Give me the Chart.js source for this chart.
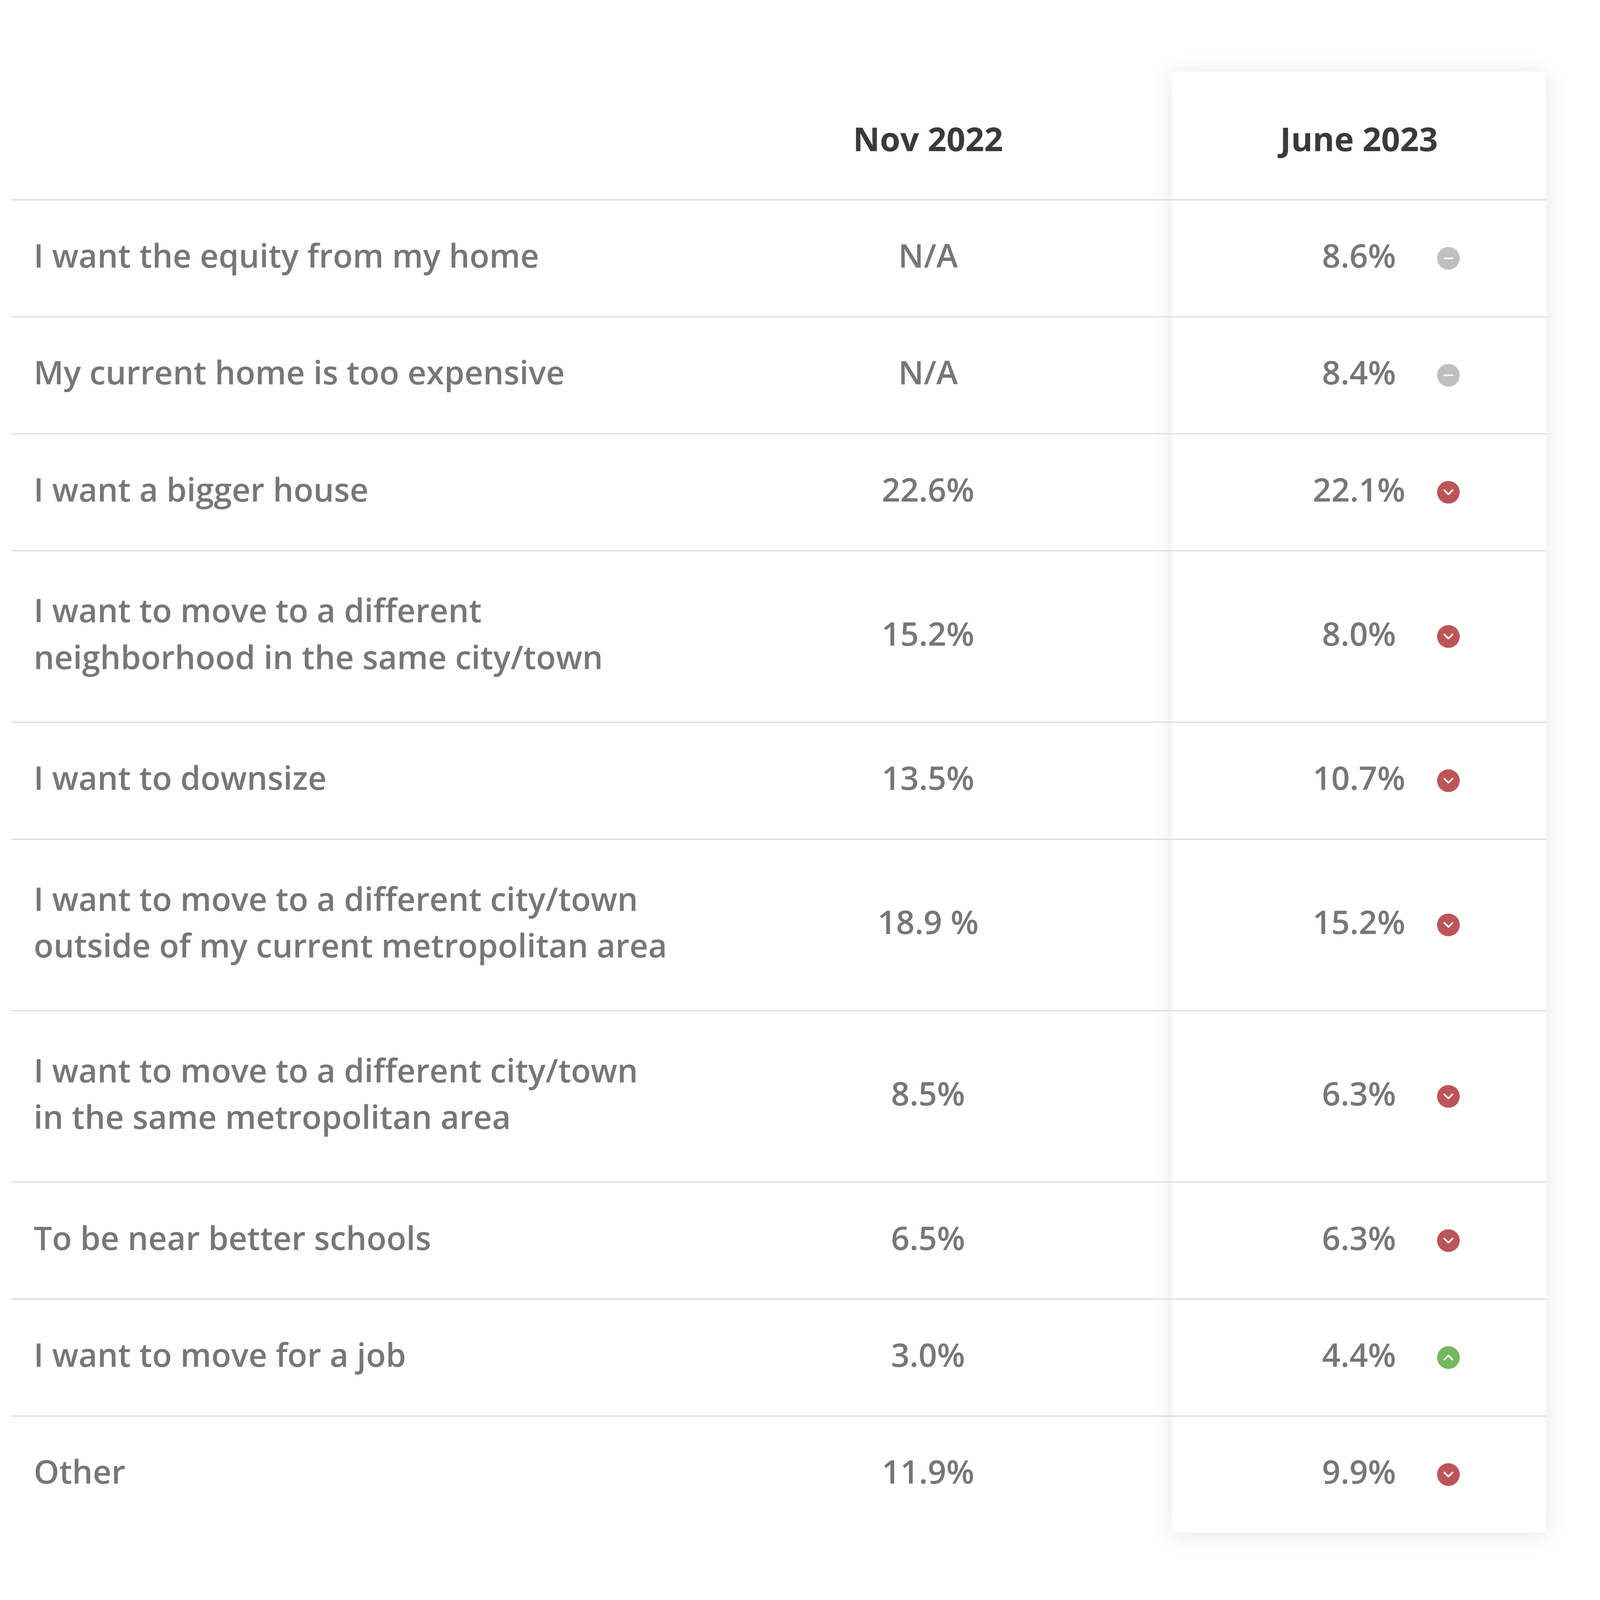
<!DOCTYPE html>
<html><head><meta charset="utf-8">
<script src="https://cdn.jsdelivr.net/npm/chart.js@4"></script>
<style>html,body{margin:0;padding:0;background:#fff;overflow:hidden}#wrap{width:100vw;height:100vh;position:relative}</style>
</head><body><div id="wrap"><canvas id="c"></canvas></div>
<script>
const headers = ["Nov 2022", "June 2023"];
const reasons = [
  ["I want the equity from my home"],
  ["My current home is too expensive"],
  ["I want a bigger house"],
  ["I want to move to a different", "neighborhood in the same city/town"],
  ["I want to downsize"],
  ["I want to move to a different city/town", "outside of my current metropolitan area"],
  ["I want to move to a different city/town", "in the same metropolitan area"],
  ["To be near better schools"],
  ["I want to move for a job"],
  ["Other"]
];
const nov2022 = ["N/A","N/A","22.6%","15.2%","13.5%","18.9 %","8.5%","6.5%","3.0%","11.9%"];
const june2023 = ["8.6%","8.4%","22.1%","8.0%","10.7%","15.2%","6.3%","6.3%","4.4%","9.9%"];
const trend = ["none","none","down","down","down","down","down","down","up","down"];

const W=1552,H=1389;
const headTop=53, headBottom=166, singleH=103, doubleH=151;
const rowTop=[], rowBot=[], rowMid=[];
let yy=headBottom;
reasons.forEach(r=>{const h=r.length>1?doubleH:singleH;rowTop.push(yy);rowMid.push(yy+h/2);yy+=h;rowBot.push(yy);});
const colNovX=902, colJuneX=1326, iconX=1414, labelX=22, panelL=1142, panelR=1510;
const trendColor={none:"#bfbfbf",down:"#bc5557",up:"#74b85f"};
const FONT="'Open Sans', Lato, sans-serif";

const tablePlugin={
  id:"table",
  beforeDatasetsDraw(chart){
    const {ctx,scales:{x,y}}=chart;
    const S=chart.width/W;
    const px=v=>x.getPixelForValue(v), py=v=>y.getPixelForValue(v);
    ctx.save();
    ctx.shadowColor="rgba(0,0,0,0.10)";ctx.shadowBlur=20*S;ctx.shadowOffsetY=2*S;
    ctx.fillStyle="#fff";
    ctx.fillRect(px(panelL),py(headTop),px(panelR)-px(panelL),py(yy)-py(headTop));
    ctx.restore();
    ctx.save();
    ctx.strokeStyle="#dcdcdc";ctx.lineWidth=1.2*S;
    [headBottom,...rowBot.slice(0,-1)].forEach(v=>{ctx.beginPath();ctx.moveTo(px(0),py(v));ctx.lineTo(px(panelR),py(v));ctx.stroke();});
    ctx.fillStyle="#3a3a3a";ctx.textAlign="center";ctx.textBaseline="middle";
    ctx.font="bold "+(32*S)+"px "+FONT;
    ctx.fillText(headers[0],px(colNovX),py(115));
    ctx.fillText(headers[1],px(colJuneX),py(115));
    ctx.fillStyle="#777";
    ctx.font="600 "+(31.5*S)+"px "+FONT;
    reasons.forEach((r,i)=>{
      ctx.textAlign="left";
      const lh=41;
      r.forEach((t,j)=>ctx.fillText(t,px(labelX),py(rowMid[i]+(j-(r.length-1)/2)*lh)));
      ctx.textAlign="center";
      ctx.fillText(nov2022[i],px(colNovX),py(rowMid[i]));
      ctx.fillText(june2023[i],px(colJuneX),py(rowMid[i]));
    });
    ctx.restore();
  },
  afterDatasetsDraw(chart){
    const {ctx}=chart;const S=chart.width/W;const meta=chart.getDatasetMeta(0);
    ctx.save();ctx.strokeStyle="#fff";ctx.lineWidth=1.6*S;ctx.lineCap="round";ctx.lineJoin="round";
    meta.data.forEach((pt,i)=>{
      const cx=pt.x,cy=pt.y,d=4*S;
      ctx.beginPath();
      if(trend[i]==="none"){ctx.moveTo(cx-d,cy);ctx.lineTo(cx+d,cy);}
      else if(trend[i]==="down"){ctx.moveTo(cx-d,cy-d*0.5);ctx.lineTo(cx,cy+d*0.5);ctx.lineTo(cx+d,cy-d*0.5);}
      else {ctx.moveTo(cx-d,cy+d*0.5);ctx.lineTo(cx,cy-d*0.5);ctx.lineTo(cx+d,cy+d*0.5);}
      ctx.stroke();
    });
    ctx.restore();
  }
};

new Chart(document.getElementById("c"),{
  type:"scatter",
  data:{datasets:[{
    data:rowMid.map(m=>({x:iconX,y:m})),
    pointRadius:c=>11*c.chart.width/W,pointHoverRadius:c=>11*c.chart.width/W,borderWidth:0,
    backgroundColor:trend.map(t=>trendColor[t]),pointBorderColor:trend.map(t=>trendColor[t])
  }]},
  options:{
    responsive:true,maintainAspectRatio:false,animation:false,
    layout:{padding:0},
    plugins:{legend:{display:false},tooltip:{enabled:false}},
    scales:{
      x:{type:"linear",min:0,max:W,display:false},
      y:{type:"linear",min:0,max:H,reverse:true,display:false}
    }
  },
  plugins:[tablePlugin]
});
</script></body></html>
